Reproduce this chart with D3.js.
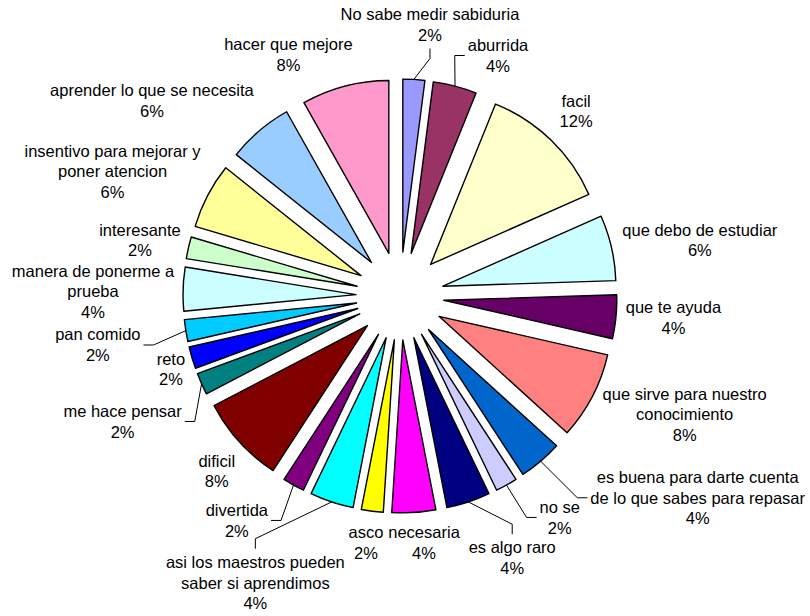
<!DOCTYPE html>
<html>
<head>
<meta charset="utf-8">
<script src="https://cdn.jsdelivr.net/npm/d3@7"></script>
<style>
body{margin:0;background:#fff;}
text{font-family:Arial,"Liberation Sans",sans-serif;font-size:16.5px;fill:#000;}
</style>
</head>
<body>
<svg id="pieChart" width="810" height="616"></svg>
<script>
// answers, clockwise from 12 o'clock ("\n" = line break in the label)
const categories = [
  "No sabe medir sabiduria", "aburrida", "facil", "que debo de estudiar", "que te ayuda",
  "que sirve para nuestro\nconocimiento", "es buena para darte cuenta\nde lo que sabes para repasar",
  "no se", "es algo raro", "necesaria", "asco", "asi los maestros pueden\nsaber si aprendimos",
  "divertida", "dificil", "me hace pensar", "reto", "pan comido", "manera de ponerme a\nprueba",
  "interesante", "insentivo para mejorar y\nponer atencion", "aprender lo que se necesita", "hacer que mejore"
];
const values = [2, 4, 12, 6, 4, 8, 4, 2, 4, 4, 2, 4, 2, 8, 2, 2, 2, 4, 2, 6, 6, 8];
const colors = [
  "#9999FF", "#993366", "#FFFFCC", "#CCFFFF", "#660066", "#FF8080", "#0066CC", "#CCCCFF",
  "#000080", "#FF00FF", "#FFFF00", "#00FFFF", "#800080", "#800000", "#008080", "#0000FF",
  "#00CCFF", "#CCFFFF", "#CCFFCC", "#FFFF99", "#99CCFF", "#FF99CC"
];

// label layout: nudge from the default outside-end spot, and whether it has a leader line
const labelNudge = [
  [9.5,-21], [32,2], [4.6,-4.6], [0,0], [-3,-2.5], [8,-2], [79,3], [37,3], [26,24], [7,-3.6], [-2.4,-2],
  [-44,39], [-35,6], [0.6,6.6], [-13,24], [5,2], [-33,9], [4,4], [4,0], [-5.5,-3.6], [-33,-4.4], [-37,1]
];
const hasLeader = [true,true,false,false,false,false,true,true,true,false,false,
  true,true,false,true,false,true,false,false,false,false,false];

const svg = d3.select("#pieChart"),
  cx = 400, cy = 296,
  radius = 173, explode = 44, labelGap = 13, lineH = 20.7;

const g = svg.append("g").attr("transform", `translate(${cx},${cy})`);

const total = d3.sum(values);
const arcs = d3.pie().sort(null).value(d => d)(values);
const arc = d3.arc().innerRadius(0).outerRadius(radius);
const dir = a => [Math.sin(a), -Math.cos(a)];

// slices, each pulled out along its bisector
arcs.forEach((d, i) => {
  const [ux, uy] = dir((d.startAngle + d.endAngle) / 2);
  g.append("path")
    .attr("d", arc(d))
    .attr("transform", `translate(${ux * explode},${uy * explode})`)
    .attr("fill", colors[i])
    .attr("stroke", "#000")
    .attr("stroke-width", 1.4)
    .attr("stroke-linejoin", "round");
});

const leaders = g.append("g");
const labels = g.append("g");

arcs.forEach((d, i) => {
  const mid = (d.startAngle + d.endAngle) / 2;
  const [ux, uy] = dir(mid);
  const lines = categories[i].split("\n").concat([Math.round(values[i] / total * 100) + "%"]);
  const n = lines.length;

  const text = labels.append("text").attr("text-anchor", "middle");
  const spans = lines.map(l => text.append("tspan").text(l));
  const w = d3.max(spans, s => s.node().getComputedTextLength());
  const h = n * lineH;

  const r = radius + explode + labelGap;
  const lx = ux * r + (w / 2) * ux + labelNudge[i][0];
  const ly = uy * r + (h / 2) * uy + labelNudge[i][1];

  spans.forEach((s, k) => s.attr("x", lx).attr("y", ly - h / 2 + 16.1 + k * lineH));

  if (hasLeader[i]) {
    const mx = ux * (radius + explode), my = uy * (radius + explode);
    const hw = w / 2 + 3, hh = h / 2 + 3;
    const dx = mx - lx, dy = my - ly;
    let a, e;
    if (Math.abs(dx) - hw > Math.abs(dy) - hh) {
      const s = Math.sign(dx);
      a = [lx + s * hw, ly];
      e = [a[0] + s * 10, ly];
    } else {
      const s = Math.sign(dy);
      a = [lx, ly + s * hh];
      e = [lx, a[1] + s * 10];
    }
    leaders.append("path")
      .attr("d", d3.line()([[mx, my], e, a]))
      .attr("fill", "none")
      .attr("stroke", "#000")
      .attr("stroke-width", 1);
  }
});
</script>
</body>
</html>
